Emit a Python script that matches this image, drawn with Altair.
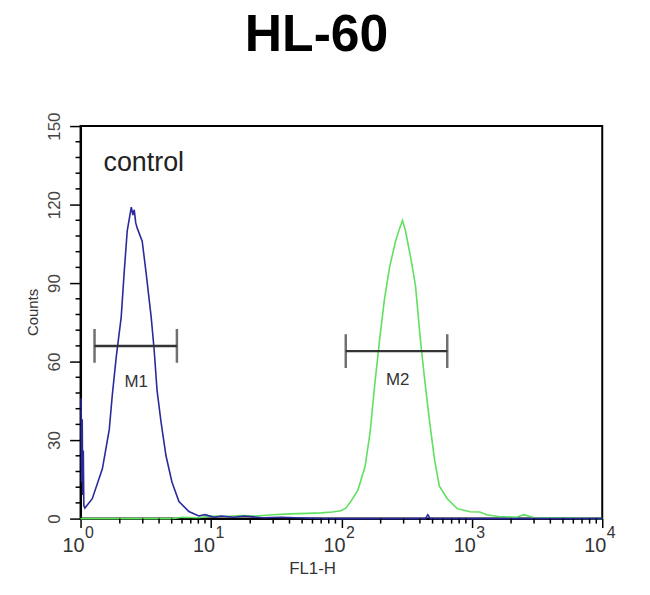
import altair as alt
import pandas as pd

# ---- data ----
blue_x = [1.01, 1.02, 1.03, 1.04, 1.05, 1.06, 1.08, 1.10, 1.23, 1.47, 1.66, 1.75, 1.88,
          2.05, 2.16, 2.28, 2.45, 2.52, 2.58, 2.65, 2.72, 2.97, 3.18, 3.48, 3.66, 3.86, 4.14,
          4.52, 5.02, 5.68, 6.77, 8.07, 9.0, 10.5, 12, 15, 18, 25, 35, 50, 80, 100, 200,
          440, 460, 480, 1000, 3000, 10000]
blue_y = [46, 14, 38, 9, 26, 5, 4, 4.5, 7.6, 19, 34, 47, 62,
          77, 94, 110, 119, 116, 118, 113, 111, 106, 94, 77, 65, 49, 37,
          24, 14, 6.5, 2.7, 1, 1.5, 0.5, 1, 0.5, 1, 0.3, 0.5, 0.2, 0, 0, 0,
          0, 1.5, 0, 0, 0, 0]

green_x = [1, 5, 6, 8, 10, 13, 17, 22, 30, 40, 55, 70, 85, 99, 108, 118, 134, 152, 166, 180,
           196, 214, 234, 260, 280, 294, 310, 339, 370, 404, 433, 472, 516, 563, 648, 772,
           970, 1150, 1300, 1600, 2200, 2500, 3000, 10000]
green_y = [0, 0, 0.5, 0.3, 1, 0.8, 1.2, 1, 1.5, 1.8, 2, 2.2, 2.5, 3, 4, 6.5, 11, 20, 33, 51,
           68, 84, 96, 106, 111, 114, 110, 100, 89, 68, 54, 38, 23, 12.5, 7.6, 3.8,
           2.6, 2.5, 1.5, 0.8, 0.5, 1.5, 0.3, 0]

marker_names = ["M1", "M2"]
marker_lo = [1.28, 108]
marker_hi = [5.48, 648]
marker_y = [66, 64]
marker_label_x = [2.67, 270]
marker_label_y = [52, 53]

x_major = [1, 10, 100, 1000, 10000]
x_exp = ["0", "1", "2", "3", "4"]
x_minor = [m * d for d in [1, 10, 100, 1000] for m in range(2, 10)]
y_major = [0, 30, 60, 90, 120, 150]
y_minor = [v for v in range(6, 150, 6) if v % 30 != 0]

title_text = "HL-60"
annot_text = "control"
annot_x = [1.5]
annot_y = [136]

W, H = 525, 395
FONT = "'Liberation Sans Narrow', 'Liberation Sans', Arial, sans-serif"
AXFONT = "Liberation Sans"

xscale = alt.Scale(type="log", domain=[1, 10000], nice=False)
yscale = alt.Scale(domain=[0, 150], nice=False)

blue_df = pd.DataFrame({"x": blue_x, "y": blue_y})
green_df = pd.DataFrame({"x": green_x, "y": green_y})
mk_df = pd.DataFrame({"name": marker_names, "lo": marker_lo, "hi": marker_hi,
                      "y": marker_y, "lx": marker_label_x, "ly": marker_label_y})

base_x = alt.X("x:Q", scale=xscale,
               axis=alt.Axis(values=x_major, labels=False, tickSize=9, tickColor="black",
                             tickWidth=1.5, domainColor="black", domainWidth=2, grid=False,
                             title="FL1-H", titleFont=AXFONT, titleFontSize=17,
                             titleFontWeight="normal", titleColor="#333",
                             titleX=233, titleY=55, titleBaseline="alphabetic",
                             titleAlign="center"))
base_y = alt.Y("y:Q", scale=yscale,
               axis=alt.Axis(values=y_major, tickSize=11, tickColor="black", tickWidth=1.5,
                             domainColor="black", domainWidth=2, grid=False,
                             labelAngle=270, labelAlign="center", labelBaseline="bottom",
                             labelPadding=6, labelFont=FONT, labelFontSize=17,
                             labelColor="#444",
                             title="Counts", titleFont=AXFONT, titleFontSize=15,
                             titleFontWeight="normal", titleColor="#333", titleAngle=270,
                             titleX=-40, titleY=187, titleAlign="center",
                             titleBaseline="bottom"))

green = alt.Chart(green_df).mark_line(color="#5fe05f", strokeWidth=1.6).encode(
    x=base_x, y=base_y, order="x:Q")
blue = alt.Chart(blue_df).mark_line(color="#2a2a9c", strokeWidth=1.6).encode(
    x=alt.X("x:Q", scale=xscale), y=alt.Y("y:Q", scale=yscale), order="x:Q")

bars = alt.Chart(mk_df).mark_rule(color="#333", strokeWidth=2.5).encode(
    x=alt.X("lo:Q", scale=xscale), x2="hi:Q", y=alt.Y("y:Q", scale=yscale))
caps_l = alt.Chart(mk_df).mark_tick(color="#333", thickness=2.5, size=34, orient="vertical").encode(
    x=alt.X("lo:Q", scale=xscale), y=alt.Y("y:Q", scale=yscale))
caps_r = alt.Chart(mk_df).mark_tick(color="#333", thickness=2.5, size=34, orient="vertical").encode(
    x=alt.X("hi:Q", scale=xscale), y=alt.Y("y:Q", scale=yscale))
mk_text = alt.Chart(mk_df).mark_text(font=FONT, fontSize=17, color="#333", baseline="middle").encode(
    x=alt.X("lx:Q", scale=xscale), y=alt.Y("ly:Q", scale=yscale), text="name:N")

annot = alt.Chart(pd.DataFrame({"x": annot_x, "y": annot_y, "t": [annot_text]})).mark_text(
    font=AXFONT, fontSize=27, color="#222", align="left", baseline="middle").encode(
    x=alt.X("x:Q", scale=xscale), y=alt.Y("y:Q", scale=yscale), text="t:N")

xminor_df = pd.DataFrame({"x": x_minor})
xminor = alt.Chart(xminor_df).mark_rule(color="black", strokeWidth=1.5).encode(
    x=alt.X("x:Q", scale=xscale), y=alt.value(H), y2=alt.value(H + 5))
yminor_df = pd.DataFrame({"y": y_minor})
yminor = alt.Chart(yminor_df).mark_rule(color="black", strokeWidth=1.5).encode(
    y=alt.Y("y:Q", scale=yscale), x=alt.value(-5), x2=alt.value(0))

xl_df = pd.DataFrame({"x": x_major, "base": ["10"] * 5, "e": x_exp})
xlab = alt.Chart(xl_df).mark_text(font=FONT, fontSize=20, color="#333", baseline="alphabetic",
                                  align="center", dx=-7).encode(
    x=alt.X("x:Q", scale=xscale), y=alt.value(H + 34), text="base:N")
xexp = alt.Chart(xl_df).mark_text(font=FONT, fontSize=16, color="#333", baseline="alphabetic",
                                  align="center", dx=9).encode(
    x=alt.X("x:Q", scale=xscale), y=alt.value(H + 20), text="e:N")

chart = alt.layer(green, blue, bars, caps_l, caps_r, mk_text, annot, xminor, yminor, xlab, xexp).properties(
    width=W, height=H,
    title=alt.TitleParams(title_text, font=AXFONT, fontSize=52, fontWeight="bold",
                          color="black", anchor="middle", offset=50, dx=-25),
    autosize=alt.AutoSizeParams(type="none"),
    padding={"left": 73, "top": 117, "right": 40, "bottom": 65},
    background="white",
).configure_view(stroke="black", strokeWidth=2)

chart.save("out.html", embed_options={"renderer": "svg", "actions": False})
